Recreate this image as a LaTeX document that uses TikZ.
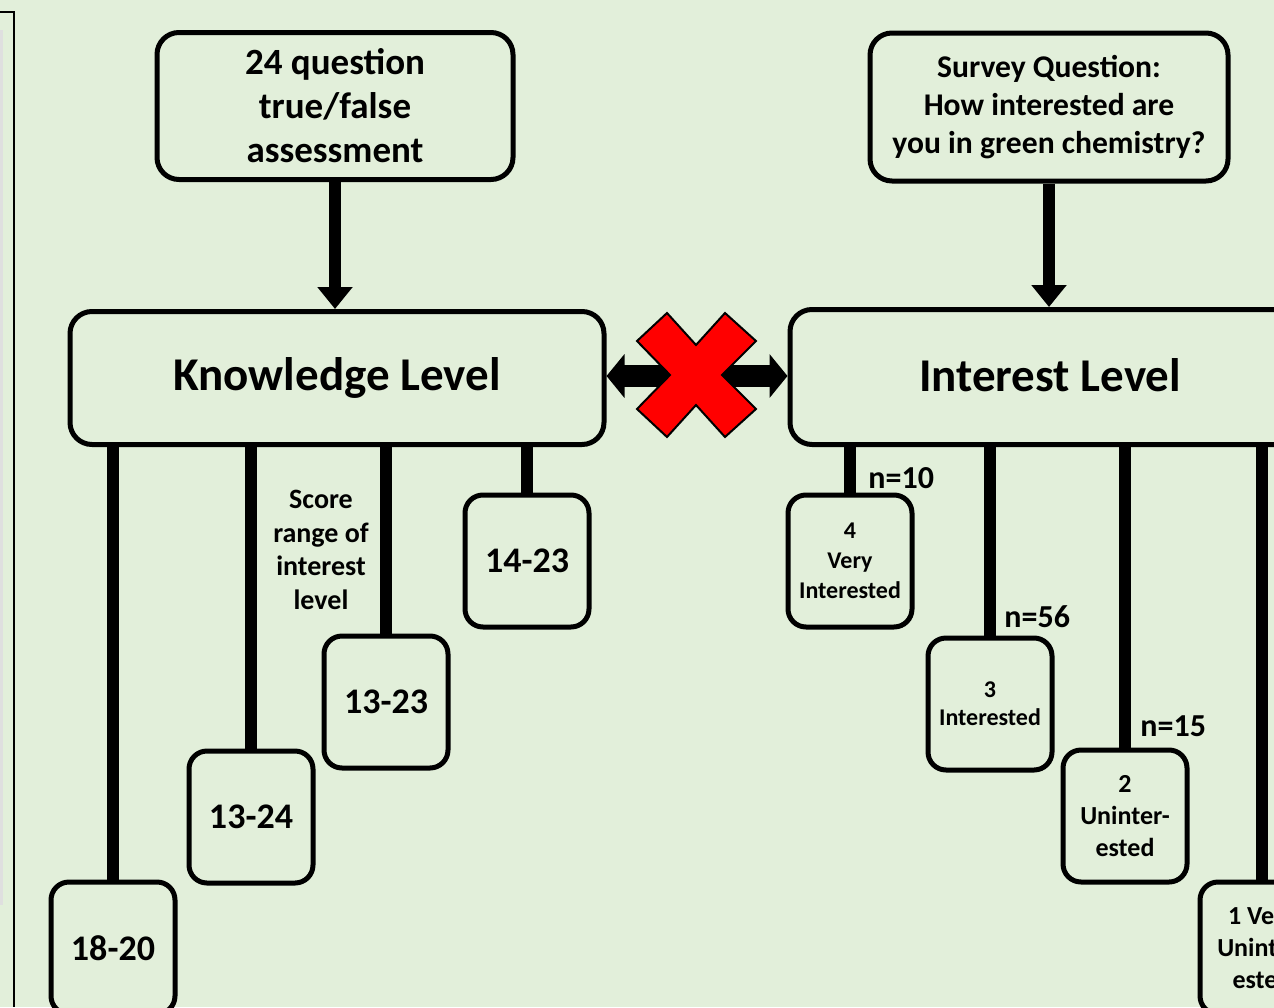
\documentclass[tikz,border=0pt]{standalone}
\usepackage{fontspec}
\setmainfont{Carlito}
\usetikzlibrary{arrows.meta}
\usetikzlibrary{positioning}
\definecolor{bgreen}{HTML}{E2EFDA}
\definecolor{xred}{HTML}{FF0000}

\begin{document}
\begin{tikzpicture}[x=0.5pt, y=-0.5pt,
    box/.style={draw, line width=2.5pt, rounded corners=11pt, fill=bgreen, align=center, inner sep=0pt},
    rangebox/.style={box, minimum width=62pt, minimum height=66pt, rounded corners=9pt},
    branch/.style={line width=6pt},
    feed/.style={line width=6pt, -{Triangle[width=17pt,length=11pt]}},
    count/.style={font=\bfseries\fontsize{16}{19}\selectfont, inner sep=0pt}]
    \useasboundingbox (0,0) rectangle (1274,1007);
    \fill[bgreen] (0,0) rectangle (1274,1007);
    \clip (0,0) rectangle (1274,1007);
    % frame on the left edge
    \fill[gray!25] (0,30) rectangle (3,905);
    \draw[line width=1pt] (0,12) -- (14,12) -- (14,1007);

    % sources
    \node[box, minimum width=178pt, minimum height=73.5pt, font=\bfseries\fontsize{18.5}{22}\selectfont] (test) at (335,106) {24 question\\true/false\\assessment};
    \node[box, minimum width=179pt, minimum height=74pt, font=\bfseries\fontsize{15.8}{19}\selectfont] (survey) at (1049,107) {Survey Question:\\How interested are\\you in green chemistry?};

    % levels
    \node[box, minimum width=267pt, minimum height=66.5pt, font=\bfseries\fontsize{23.5}{28}\selectfont] (know) at (337,378) {\raisebox{-1.5pt}{Knowledge Level}};
    \node[box, minimum width=260pt, minimum height=67.5pt, font=\bfseries\fontsize{23.5}{28}\selectfont] (interest) at (1050,377) {\raisebox{2pt}{Interest Level}};

    \draw[feed] (test.south) -- (test.south |- know.north);
    \draw[feed] (survey.south) -- (survey.south |- interest.north);

    % knowledge score ranges
    \node[rangebox, font=\bfseries\fontsize{18}{21}\selectfont] (r1) at (113,948) {\raisebox{-1.5pt}{18-20}};
    \node[rangebox, font=\bfseries\fontsize{18}{21}\selectfont] (r2) at (251,817) {\raisebox{-4pt}{13-24}};
    \node[rangebox, font=\bfseries\fontsize{18}{21}\selectfont] (r3) at (386,702) {\raisebox{-3.5pt}{13-23}};
    \node[rangebox, font=\bfseries\fontsize{18}{21}\selectfont] (r4) at (527,561) {14-23};
    \foreach \r in {r1,r2,r3,r4}
        \draw[branch] (\r.north |- know.south) -- (\r.north);
    \node[align=center, inner sep=0pt, font=\bfseries\fontsize{14}{16.8}\selectfont] (scorelbl) at (321,550) {Score\\range of\\interest\\level};

    % interest levels
    \node[rangebox, font=\bfseries\fontsize{12}{15}\selectfont] (i4) at (850,561) {4\\Very\\Interested};
    \node[rangebox, font=\bfseries\fontsize{12}{14}\selectfont] (i3) at (990,704) {3\\Interested};
    \node[rangebox, font=\bfseries\fontsize{13}{16}\selectfont] (i2) at (1125,816) {2\\Uninter-\\ested};
    \node[rangebox, font=\bfseries\fontsize{13}{16}\selectfont] (i1) at (1262,948) {1 Very\\Uninter-\\ested};
    \foreach \i in {i1,i2,i3,i4}
        \draw[branch] (\i.north |- interest.south) -- (\i.north);
    \node[count, anchor=west] (n4) at (868,478) {n=10};
    \node[count, anchor=west] (n3) at (1004,617) {n=56};
    \node[count, anchor=west] (n2) at (1140,726) {n=15};

    % no link between the two levels
    \draw[line width=11pt, {Triangle[width=21.5pt,length=9pt]}-{Triangle[width=21.5pt,length=9pt]}] (know.east |- 0,376) -- (interest.west |- 0,376);
    \draw[fill=xred, line width=1pt] (667,313) -- (696,345) -- (725,313) -- (756,341) -- (722,375) -- (756,409) -- (725,437) -- (696,405) -- (667,437) -- (637,409) -- (670,375) -- (637,341) -- cycle;
\end{tikzpicture}
\end{document}
